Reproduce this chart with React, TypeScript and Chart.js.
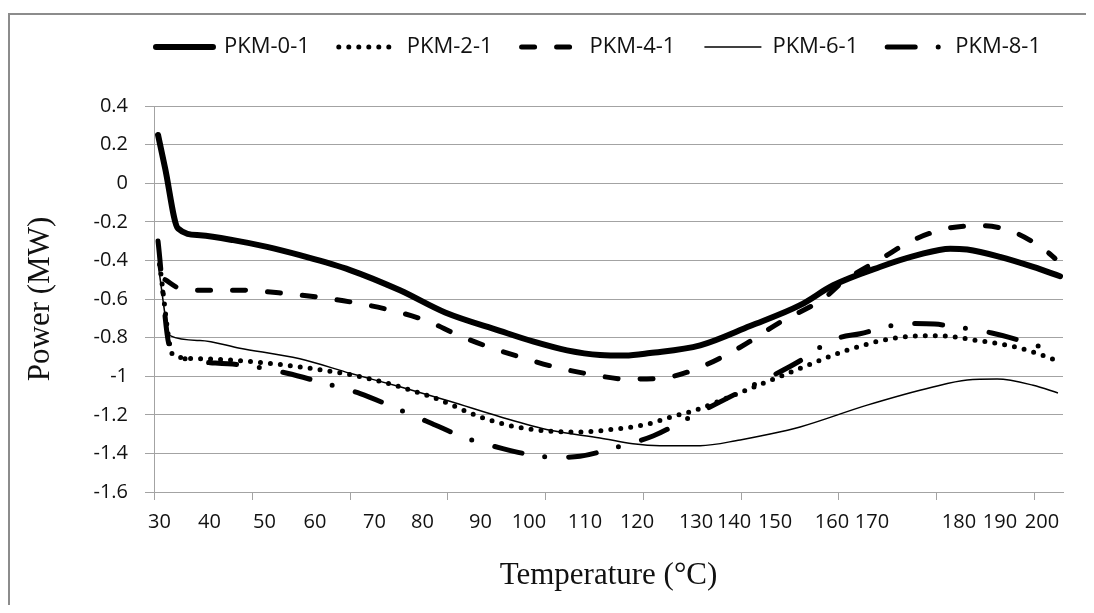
import React, { useEffect, useRef } from "react";
import { Chart, registerables, LinearScale } from "chart.js";

Chart.register(...registerables);

// ---- data (temperature in °C, power in MW) ----
const pkm01Temp = [29.7, 31.1, 33.7, 38.1, 44.3, 50.5, 57.0, 65.9, 75.3, 83.9, 94.0, 100.7, 106.8, 112.9, 117.7, 122.2, 131.1, 143.9, 154.4, 160.3, 170.9, 175.2, 179.0, 182.0, 190.0, 197.9, 204.3];
const pkm01Power = [0.25, 0.08, -0.235, -0.27, -0.295, -0.33, -0.373, -0.45, -0.555, -0.67, -0.765, -0.82, -0.866, -0.89, -0.893, -0.88, -0.84, -0.74, -0.632, -0.529, -0.434, -0.373, -0.339, -0.344, -0.382, -0.434, -0.482];

const pkm21Temp = [30.0, 32.7, 38.1, 45.5, 58.0, 68.7, 81.8, 89.9, 96.8, 103.2, 109.1, 115.4, 121.7, 126.1, 129.5, 141.5, 154.4, 163.8, 172.9, 177.5, 184.4, 194.0, 201.2, 203.6];
const pkm21Power = [-0.42, -0.89, -0.91, -0.92, -0.955, -1.01, -1.11, -1.21, -1.26, -1.284, -1.289, -1.275, -1.249, -1.208, -1.18, -1.085, -0.96, -0.865, -0.80, -0.79, -0.815, -0.85, -0.90, -0.92];

const pkm41Temp = [31.1, 34.1, 40.1, 46.1, 53.7, 65.9, 75.3, 81.3, 85.6, 91.3, 98.1, 105.0, 111.0, 118.1, 124.2, 129.8, 141.5, 150.9, 158.4, 162.8, 171.1, 174.7, 178.6, 185.6, 194.0, 201.2, 203.1];
const pkm41Power = [-0.50, -0.545, -0.555, -0.555, -0.57, -0.615, -0.67, -0.72, -0.78, -0.845, -0.90, -0.955, -0.99, -1.015, -1.01, -0.965, -0.85, -0.72, -0.60, -0.51, -0.39, -0.295, -0.235, -0.22, -0.26, -0.355, -0.39];

const pkm61Temp = [29.7, 32.1, 38.1, 45.5, 57.0, 65.9, 75.3, 84.7, 94.0, 103.8, 112.9, 119.2, 123.9, 131.1, 141.5, 148.8, 154.4, 168.8, 177.0, 182.0, 189.3, 197.9, 203.8];
const pkm61Power = [-0.42, -0.79, -0.815, -0.855, -0.91, -0.985, -1.055, -1.13, -1.21, -1.28, -1.32, -1.35, -1.36, -1.36, -1.33, -1.30, -1.263, -1.15, -1.056, -1.02, -1.015, -1.047, -1.087];

const pkm81Temp = [29.7, 32.1, 40.1, 46.8, 54.5, 60.8, 67.6, 73.9, 81.6, 87.0, 94.6, 102.0, 105.5, 109.1, 115.8, 122.7, 128.5, 141.5, 154.4, 158.2, 161.9, 167.0, 172.6, 174.9, 177.2, 183.2, 188.0, 192.4, 200.7];
const pkm81Power = [-0.30, -0.85, -0.93, -0.945, -0.985, -1.03, -1.09, -1.16, -1.245, -1.315, -1.375, -1.415, -1.42, -1.415, -1.37, -1.31, -1.22, -1.08, -0.92, -0.845, -0.80, -0.78, -0.735, -0.727, -0.73, -0.757, -0.776, -0.80, -0.855];

const seriesNames = ["PKM-0-1", "PKM-2-1", "PKM-4-1", "PKM-6-1", "PKM-8-1"];
const xTickLabels = [30, 40, 50, 60, 70, 80, 90, 100, 110, 120, 130, 140, 150, 160, 170, 180, 190, 200];
const yTicks = { min: -1.6, max: 0.4, step: 0.2 };

// ---- category-style temperature axis (temperatures are not evenly spread along the axis) ----
const axisTemps = [28.9, 30, 40, 50, 60, 70, 80, 90, 100, 110, 120, 130, 140, 150, 160, 170, 180, 190, 200, 205];
const axisSpots = [0, 0.0061, 0.0611, 0.1216, 0.1771, 0.2426, 0.2954, 0.3592, 0.4125, 0.4741, 0.5314, 0.5963, 0.6381, 0.6832, 0.7459, 0.7899, 0.8856, 0.9307, 0.9769, 1];
const axisTickMarkStep = 0.10754;

function interp(v: number, xs: number[], ys: number[]) {
  const n = xs.length;
  let i = 0;
  if (v <= xs[0]) i = 0;
  else if (v >= xs[n - 1]) i = n - 2;
  else {
    while (i < n - 2 && v > xs[i + 1]) i++;
  }
  const t = (v - xs[i]) / (xs[i + 1] - xs[i]);
  return ys[i] + t * (ys[i + 1] - ys[i]);
}

class WarpedScale extends LinearScale {
  static id = "warped";
  static defaults = {};
  getPixelForValue(value: any) {
    if (value === null || value === undefined || Number.isNaN(+value)) return NaN;
    return this.getPixelForDecimal(interp(+value, axisTemps, axisSpots));
  }
  getValueForPixel(pixel: number) {
    return interp(this.getDecimalForPixel(pixel), axisSpots, axisTemps);
  }
}
Chart.register(WarpedScale as any);

const gridColor = "#a3a3a3";
const textColor = "#111111";

function pts(t: number[], p: number[]) {
  return t.map((x, i) => ({ x, y: p[i] }));
}

const xTickMarks = {
  id: "xTickMarks",
  afterDraw(chart: any) {
    const s = chart.scales.x;
    const ctx = chart.ctx;
    ctx.save();
    ctx.strokeStyle = gridColor;
    ctx.lineWidth = 1;
    for (let k = 0; k * axisTickMarkStep <= 1.0001; k++) {
      const x = Math.round(s.getPixelForDecimal(k * axisTickMarkStep)) + 0.5;
      ctx.beginPath();
      ctx.moveTo(x, s.top);
      ctx.lineTo(x, s.top + 8);
      ctx.stroke();
    }
    ctx.restore();
  },
};

const legendFit = {
  id: "legendFit",
  beforeInit(chart: any) {
    const lg = chart.legend;
    if (!lg) return;
    const orig = lg.fit;
    lg.fit = function () {
      const mw = this.maxWidth;
      this.maxWidth = 3000;
      orig.call(this);
      this.maxWidth = mw;
      this.width = Math.min(this.width, mw);
      this.height += 38;
    };
  },
  afterLayout(chart: any) {
    const lg = chart.legend;
    if (!lg) return;
    lg.left -= 60;
    lg.right += 40;
    lg.width = lg.right - lg.left;
  },
};

export default function App() {
  const ref = useRef<HTMLCanvasElement>(null);
  useEffect(() => {
    if (!ref.current) return;
    document.body.style.overflow = "hidden";
    const chart = new Chart(ref.current, {
      type: "line",
      data: {
        datasets: [
          {
            label: seriesNames[0],
            data: pts(pkm01Temp, pkm01Power),
            borderColor: "#000",
            backgroundColor: "#000",
            borderWidth: 6,
            borderCapStyle: "round",
          },
          {
            label: seriesNames[1],
            data: pts(pkm21Temp, pkm21Power),
            borderColor: "#000",
            backgroundColor: "#000",
            borderWidth: 5,
            borderDash: [0, 10],
            borderCapStyle: "round",
          },
          {
            label: seriesNames[2],
            data: pts(pkm41Temp, pkm41Power),
            borderColor: "#000",
            backgroundColor: "#000",
            borderWidth: 5,
            borderDash: [13, 22],
            borderCapStyle: "round",
          },
          {
            label: seriesNames[3],
            data: pts(pkm61Temp, pkm61Power),
            borderColor: "#000",
            backgroundColor: "#000",
            borderWidth: 1.5,
            borderCapStyle: "butt",
          },
          {
            label: seriesNames[4],
            data: pts(pkm81Temp, pkm81Power),
            borderColor: "#000",
            backgroundColor: "#000",
            borderWidth: 5,
            borderDash: [28, 23, 0, 24],
            borderCapStyle: "round",
          },
        ] as any,
      },
      options: {
        animation: false,
        responsive: false,
        maintainAspectRatio: false,
        events: [],
        elements: {
          point: { radius: 0, hoverRadius: 0 },
          line: { cubicInterpolationMode: "monotone", fill: false },
        },
        layout: { padding: { left: 0, right: 23, top: 4, bottom: 0 } },
        plugins: {
          legend: {
            position: "top",
            fullSize: false,
            labels: {
              usePointStyle: true,
              pointStyle: "line",
              pointStyleWidth: 57,
              padding: 29,
              color: textColor,
              font: { family: "'Open Sans'", size: 22 },
              generateLabels: (chart: any) =>
                chart.data.datasets.map((ds: any, i: number) => ({
                  text: ds.label,
                  fillStyle: "rgba(0,0,0,0)",
                  strokeStyle: ds.borderColor,
                  lineWidth: ds.borderWidth,
                  lineDash: ds.borderDash || [],
                  lineCap: ds.borderCapStyle || "butt",
                  pointStyle: "line",
                  hidden: false,
                  datasetIndex: i,
                  fontColor: textColor,
                })),
            },
          },
          tooltip: { enabled: false },
        },
        scales: {
          x: {
            type: "warped" as any,
            min: 28.9,
            max: 205,
            afterBuildTicks: (s: any) => {
              s.ticks = xTickLabels.map((v) => ({ value: v }));
            },
            afterFit: (s: any) => {
              s.height = 108;
            },
            ticks: {
              autoSkip: false,
              maxRotation: 0,
              minRotation: 0,
              padding: 18,
              color: textColor,
              font: { family: "'Open Sans'", size: 20 },
              callback: (v: any) => String(v),
            },
            grid: { display: true, drawOnChartArea: false, drawTicks: false },
            border: { display: true, color: gridColor, width: 1 },
            title: {
              display: true,
              text: "Temperature (°C)",
              color: textColor,
              font: { family: "'Liberation Serif'", size: 31 },
              padding: { top: 0, bottom: 6 },
            },
          } as any,
          y: {
            type: "linear",
            min: yTicks.min,
            max: yTicks.max,
            afterFit: (s: any) => {
              s.width = 144;
            },
            ticks: {
              stepSize: yTicks.step,
              padding: 17,
              color: textColor,
              font: { family: "'Open Sans'", size: 20 },
              callback: (v: any) => String(Math.round(Number(v) * 10) / 10),
            },
            grid: { color: gridColor, lineWidth: 1, tickLength: 9, drawTicks: true },
            border: { display: true, color: gridColor, width: 1 },
            title: {
              display: true,
              text: "Power (MW)",
              color: textColor,
              font: { family: "'Liberation Serif'", size: 31 },
              padding: { top: 12, bottom: 0 },
            },
          },
        },
      },
      plugins: [xTickMarks, legendFit],
    } as any);
    return () => chart.destroy();
  }, []);

  return (
    <div style={{ position: "relative", width: 1078, height: 597 }}>
      <div
        style={{
          position: "absolute",
          left: 0,
          top: 5,
          width: 1200,
          height: 700,
          borderLeft: "2px solid #8c8c8c",
          borderTop: "2px solid #8c8c8c",
          boxSizing: "border-box",
        }}
      />
      <canvas ref={ref} width={1076} height={597} style={{ position: "absolute", left: 2, top: -5 }} />
    </div>
  );
}
